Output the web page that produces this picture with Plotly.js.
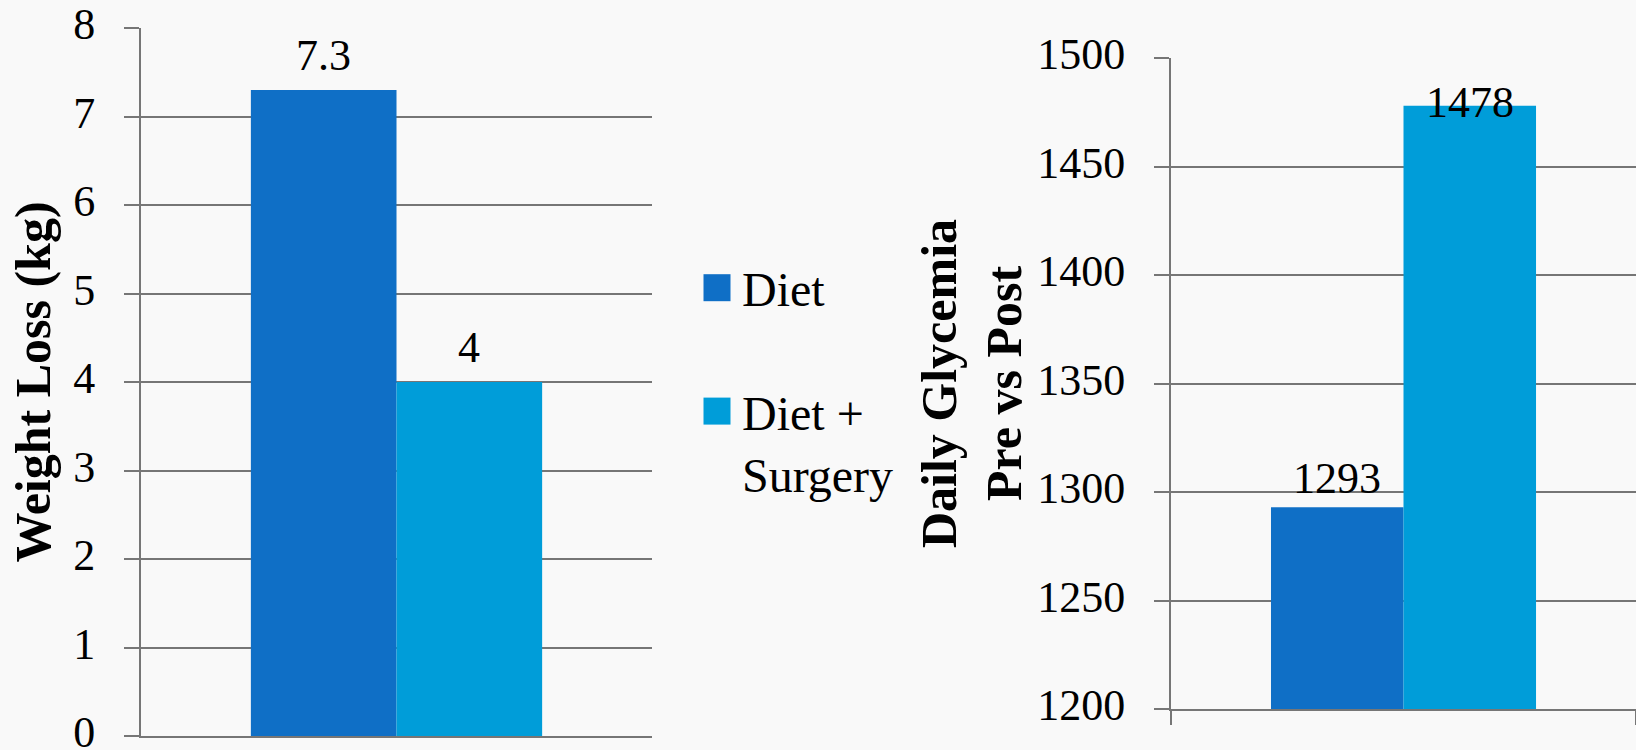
<!DOCTYPE html>
<html><head><meta charset="utf-8">
<script src="https://cdn.plot.ly/plotly-3.0.1.min.js"></script>
<style>html,body{margin:0;padding:0;background:#f9f9f9;} #chart{width:1636px;height:750px;}</style>
</head><body><div id="chart"></div>
<script>
// ---- data ----
const seriesNames = ["Diet", "Diet + Surgery"];
const legendLabels = ["Diet", "Diet +<br>Surgery"];
const weightCategory = ["Weight Loss"];
const weightDiet = [7.3];
const weightSurgery = [4];
const glycemiaCategory = ["Daily Glycemia"];
const glycemiaDiet = [1293];
const glycemiaSurgery = [1478];
const weightTicks = [0, 1, 2, 3, 4, 5, 6, 7, 8];
const glycemiaTicks = [1200, 1250, 1300, 1350, 1400, 1450, 1500];
const weightTitle = "Weight Loss (kg)";
const glycemiaTitle = "Daily Glycemia<br>Pre vs Post";

// ---- style ----
const W = 1636, H = 750;
const px = v => v / W, py = v => 1 - v / H;
const colors = ["#0F6FC6", "#009DD9"];
const GRID = "#767676";
const FONT = '"Liberation Serif", "Times New Roman", serif';
const BARGAP = 0.43;
const labelShift = [[8, 8], [2, -23]]; // [chart][series] vertical px offset of value labels

const data = [
  {type: "bar", name: legendLabels[0], legendgroup: "g0", x: weightCategory, y: weightDiet, marker: {color: colors[0]}, xaxis: "x", yaxis: "y", hoverinfo: "none"},
  {type: "bar", name: legendLabels[1], legendgroup: "g1", x: weightCategory, y: weightSurgery, marker: {color: colors[1]}, xaxis: "x", yaxis: "y", hoverinfo: "none"},
  {type: "bar", name: legendLabels[0], legendgroup: "g0", showlegend: false, x: glycemiaCategory, y: glycemiaDiet, marker: {color: colors[0]}, xaxis: "x2", yaxis: "y2", hoverinfo: "none"},
  {type: "bar", name: legendLabels[1], legendgroup: "g1", showlegend: false, x: glycemiaCategory, y: glycemiaSurgery, marker: {color: colors[1]}, xaxis: "x2", yaxis: "y2", hoverinfo: "none"}
];

function valueLabels(chartIdx, xref, yref, cats, seriesList) {
  const out = [];
  const n = seriesList.length, gw = 1 - BARGAP, bw = gw / n;
  seriesList.forEach((vals, s) => {
    vals.forEach((v, i) => {
      out.push({
        xref: xref, yref: yref, x: i - gw / 2 + bw * (s + 0.5), y: v,
        text: String(v), showarrow: false, yanchor: "bottom", xanchor: "center",
        yshift: labelShift[chartIdx][s], font: {family: FONT, size: 44, color: "#000"}
      });
    });
  });
  return out;
}

const yCommon = {
  showline: true, linecolor: GRID, linewidth: 2,
  showgrid: true, gridcolor: GRID, gridwidth: 2,
  zeroline: false, ticks: "outside", ticklen: 15, tickwidth: 2, tickcolor: GRID,
  ticklabelstandoff: 20, ticklabelshift: -4, ticklabeloverflow: "allow",
  tickfont: {family: FONT, size: 44, color: "#000"}, fixedrange: true
};
const titleFont = {family: FONT, size: 50, weight: 700, color: "#000"};

const layout = {
  width: W, height: H, margin: {l: 0, r: 0, t: 0, b: 0},
  paper_bgcolor: "#f9f9f9", plot_bgcolor: "rgba(0,0,0,0)",
  barmode: "group", bargap: BARGAP, bargroupgap: 0,
  font: {family: FONT, size: 44, color: "#000"},
  showlegend: true,
  legend: {x: px(692), xanchor: "left", y: py(250), yanchor: "top", bgcolor: "rgba(0,0,0,0)", borderwidth: 0,
           font: {family: FONT, size: 48, color: "#000"}, tracegroupgap: 58, valign: "top", traceorder: "grouped",
           itemwidth: 40},
  xaxis: {domain: [px(141), px(652)], anchor: "y", showticklabels: false, showline: true, linecolor: GRID, linewidth: 2,
          showgrid: false, zeroline: false, ticks: "", fixedrange: true},
  yaxis: Object.assign({}, yCommon, {domain: [py(736), py(28)], anchor: "x", range: [0, 8], tickvals: weightTicks,
          ticktext: weightTicks.map(String), title: {text: weightTitle, font: titleFont, standoff: 7}}),
  xaxis2: {domain: [px(1171), 1], anchor: "y2", showticklabels: false, showline: true, linecolor: GRID, linewidth: 2,
          showgrid: false, zeroline: false, ticks: "outside", tickson: "boundaries", ticklen: 14, tickwidth: 2, tickcolor: GRID, fixedrange: true},
  yaxis2: Object.assign({}, yCommon, {domain: [py(709), py(58)], anchor: "x2", range: [1200, 1500], tickvals: glycemiaTicks,
          ticktext: glycemiaTicks.map(String), title: {text: glycemiaTitle, font: titleFont, standoff: 0}}),
  annotations: [].concat(
    valueLabels(0, "x", "y", weightCategory, [weightDiet, weightSurgery]),
    valueLabels(1, "x2", "y2", glycemiaCategory, [glycemiaDiet, glycemiaSurgery])
  )
};

function enlargeLegendSymbols(gd) {
  gd.querySelectorAll(".legend .legendpoints path").forEach(p => {
    if (p.getAttribute("data-scaled")) return;
    p.setAttribute("data-scaled", "1");
    p.setAttribute("transform", (p.getAttribute("transform") || "") + " scale(2.25)");
  });
}

Plotly.newPlot("chart", data, layout, {displayModeBar: false, staticPlot: true}).then(gd => {
  enlargeLegendSymbols(gd);
  setTimeout(() => enlargeLegendSymbols(gd), 50);
});
</script>
</body></html>
